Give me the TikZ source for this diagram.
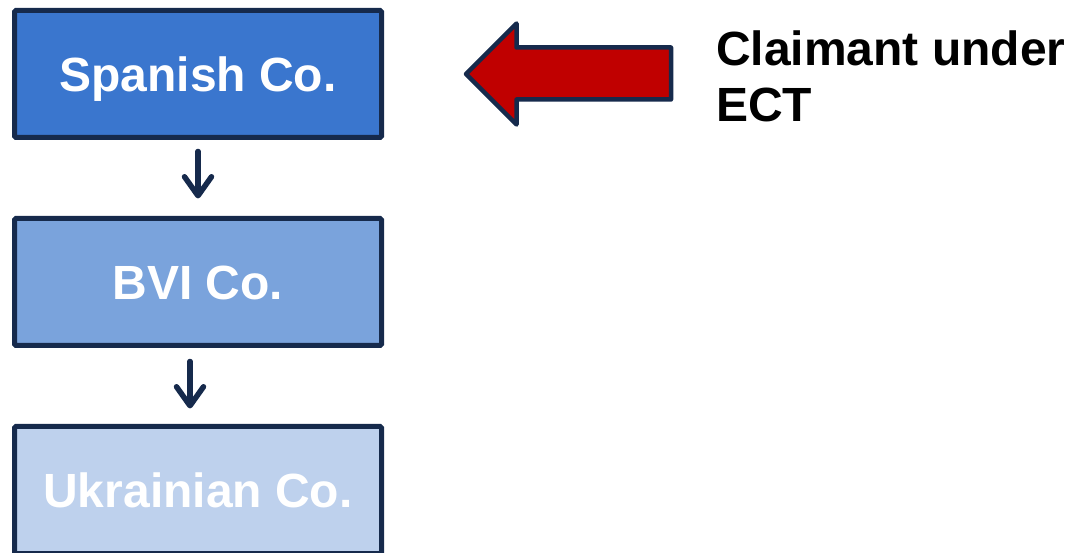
\documentclass[tikz,border=0pt]{standalone}
\usepackage{fontspec}
\setmainfont{Liberation Sans}
\usetikzlibrary{arrows.meta}

\definecolor{navy}{RGB}{22,42,76}
\definecolor{topblue}{RGB}{58,118,206}
\definecolor{midblue}{RGB}{122,163,220}
\definecolor{paleblue}{RGB}{190,209,237}
\definecolor{claimred}{RGB}{192,0,0}

\tikzset{
  company/.style={draw=navy, line width=5pt, rounded corners=1.5pt,
    minimum width=367pt, minimum height=127pt, inner sep=0pt, outer sep=0pt,
    text=white, font=\fontsize{48}{56}\selectfont\bfseries,
    text height=34.4pt, text depth=0pt},
  owns/.style={draw=navy, line width=5.5pt, line cap=round,
    -{Straight Barb[length=19pt, width=27pt, line cap=round, line join=round]}},
  pointer/.style={draw=navy, fill=claimred, line width=4.5pt, line join=round},
  caption/.style={align=left, anchor=north west, inner sep=0pt,
    font=\fontsize{48}{56}\selectfont\bfseries}
}

\begin{document}
\begin{tikzpicture}[x=1pt, y=-1pt]
  \useasboundingbox (0,0) rectangle (1072,553);
  \clip (0,0) rectangle (1072,553);

  % ownership chain
  \node[company, fill=topblue]  (spanish)   at (198,74)  {Spanish Co.};
  \node[company, fill=midblue]  (bvi)       at (198,282) {BVI Co.};
  \node[company, fill=paleblue] (ukrainian) at (198,490) {Ukrainian Co.};

  \draw[owns, shorten <=14pt, shorten >=20pt]
    (spanish.south) -- (bvi.north);
  \draw[owns, shorten <=16pt, shorten >=18pt]
    ([xshift=-8pt]bvi.south) -- ([xshift=-8pt]ukrainian.north);

  % block arrow pointing at the claimant
  \draw[pointer] (466,74) -- (516.5,23.5) -- (516.5,47.5) -- (671,47.5)
    -- (671,99.5) -- (516.5,99.5) -- (516.5,124.5) -- cycle;

  \node[caption] (claimant) at (716,31) {Claimant under\\ECT};
\end{tikzpicture}
\end{document}
